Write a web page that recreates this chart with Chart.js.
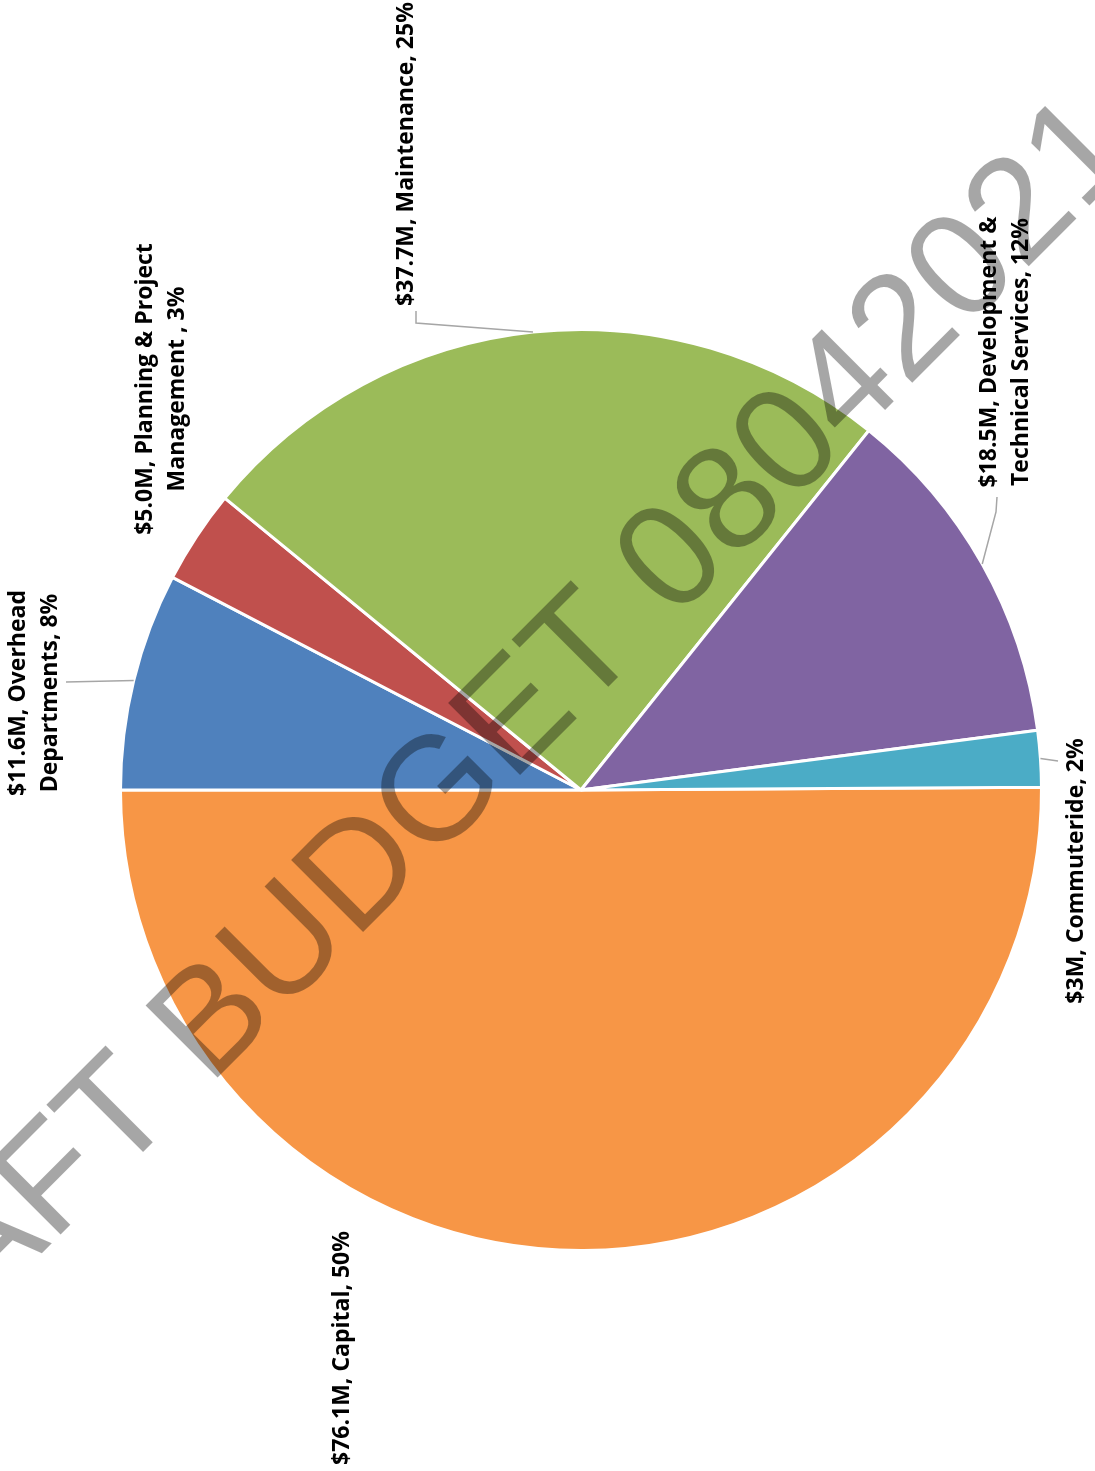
<!DOCTYPE html>
<html>
<head>
<meta charset="utf-8">
<script src="https://cdn.jsdelivr.net/npm/chart.js@4.4.1/dist/chart.umd.min.js"></script>
<style>
	html, body { margin: 0; padding: 0; background: #ffffff; }
	#wrap { position: relative; width: 1095px; height: 1471px; }
</style>
</head>
<body>
<div id="wrap"><canvas id="chart-budget-split"></canvas></div>
<script>
// Chart data
const CATEGORIES = ["Capital", "Overhead Departments", "Planning & Project Management ", "Maintenance", "Development & Technical Services", "Commuteride"];
const AMOUNTS = [76.1, 11.6, 5.0, 37.7, 18.5, 3];
const AMOUNT_TEXT = ["$76.1M", "$11.6M", "$5.0M", "$37.7M", "$18.5M", "$3M"];
const SLICE_COLORS = ["#F79646", "#4F81BD", "#C0504D", "#9BBB59", "#8064A2", "#4BACC6"];
const WATERMARK = "DRAFT BUDGET 08042021";

// Label placement (label text is rotated -90deg, like the source)
// wrapAfter: number of words on the first line (null = single line)
// at: centre of the text block; leader: elbow points after the slice edge
const LABEL_LAYOUT = [
	{ wrapAfter: null, at: [342, 1348], leader: null },
	{ wrapAfter: 2, at: [34, 693], leader: [[66, 682]] },
	{ wrapAfter: 4, at: [161, 389], leader: null },
	{ wrapAfter: null, at: [406, 154], leader: [[416, 323], [416, 311]] },
	{ wrapAfter: 3, at: [1005, 352], leader: [[996, 512], [997, 497]] },
	{ wrapAfter: null, at: [1076, 871], leader: [[1058, 761]] },
];

const LABEL_FONT = "bold 23px 'Open Sans'";
const LINE_HEIGHT = 32;
const WATERMARK_FONT = "400 148px 'Liberation Sans'";

const total = AMOUNTS.reduce((a, b) => a + b, 0);

const labelText = (i) => {
	const pct = Math.round((AMOUNTS[i] / total) * 100) + "%";
	const full = AMOUNT_TEXT[i] + ", " + CATEGORIES[i] + ", " + pct;
	const splitAt = LABEL_LAYOUT[i].wrapAfter;
	if (!splitAt) return [full];
	const words = full.split(" ");
	return [words.slice(0, splitAt).join(" "), words.slice(splitAt).join(" ")];
};

const sliceLabels = {
	id: "sliceLabels",
	afterDatasetsDraw(chart) {
		const { ctx } = chart;
		const arcs = chart.getDatasetMeta(0).data;
		ctx.save();

		// leader lines from the middle of each slice edge
		ctx.strokeStyle = "#a6a6a6";
		ctx.lineWidth = 1.5;
		arcs.forEach((arc, i) => {
			const layout = LABEL_LAYOUT[i];
			if (!layout.leader) return;
			const { x, y, startAngle, endAngle, outerRadius } = arc.getProps(["x", "y", "startAngle", "endAngle", "outerRadius"], true);
			const mid = (startAngle + endAngle) / 2;
			ctx.beginPath();
			ctx.moveTo(x + Math.cos(mid) * outerRadius, y + Math.sin(mid) * outerRadius);
			layout.leader.forEach(([px, py]) => ctx.lineTo(px, py));
			ctx.stroke();
		});

		// rotated data labels
		ctx.fillStyle = "#000000";
		ctx.font = LABEL_FONT;
		ctx.textAlign = "center";
		ctx.textBaseline = "middle";
		arcs.forEach((arc, i) => {
			const lines = labelText(i);
			const [cx, cy] = LABEL_LAYOUT[i].at;
			ctx.save();
			ctx.translate(cx, cy);
			ctx.rotate(-Math.PI / 2);
			lines.forEach((line, k) => {
				ctx.fillText(line, 0, (k - (lines.length - 1) / 2) * LINE_HEIGHT);
			});
			ctx.restore();
		});
		ctx.restore();
	},
	afterDraw(chart) {
		// diagonal "draft" watermark laid over the pie
		const { ctx } = chart;
		ctx.save();
		ctx.font = WATERMARK_FONT;
		ctx.fillStyle = "rgba(0, 0, 0, 0.35)";
		ctx.textAlign = "left";
		ctx.textBaseline = "alphabetic";
		// anchor the stem of the first "T" at its place in the source
		const tCentre = ctx.measureText("DRAF").width + ctx.measureText("T").width / 2;
		ctx.translate(148, 1147);
		ctx.rotate(-Math.PI / 4);
		ctx.fillText(WATERMARK, -tCentre, 0);
		ctx.restore();
	},
};

const CHART_CONFIG = {
	type: "pie",
	data: {
		labels: CATEGORIES,
		datasets: [
			{
				data: AMOUNTS,
				backgroundColor: SLICE_COLORS,
				borderColor: "#ffffff",
				borderWidth: 3,
			},
		],
	},
	options: {
		responsive: true,
		maintainAspectRatio: false,
		animation: false,
		// Capital starts just above 3 o'clock and runs clockwise through the bottom half
		rotation: 270 - (AMOUNTS[0] / total) * 360,
		layout: {
			padding: { left: 119, right: 52, top: 328, bottom: 219 },
		},
		plugins: {
			legend: { display: false },
			tooltip: { enabled: false },
		},
	},
	plugins: [sliceLabels],
};

Promise.all([document.fonts.load(LABEL_FONT), document.fonts.load(WATERMARK_FONT)]).finally(() => {
	new Chart(document.getElementById("chart-budget-split"), CHART_CONFIG);
});
</script>
</body>
</html>
